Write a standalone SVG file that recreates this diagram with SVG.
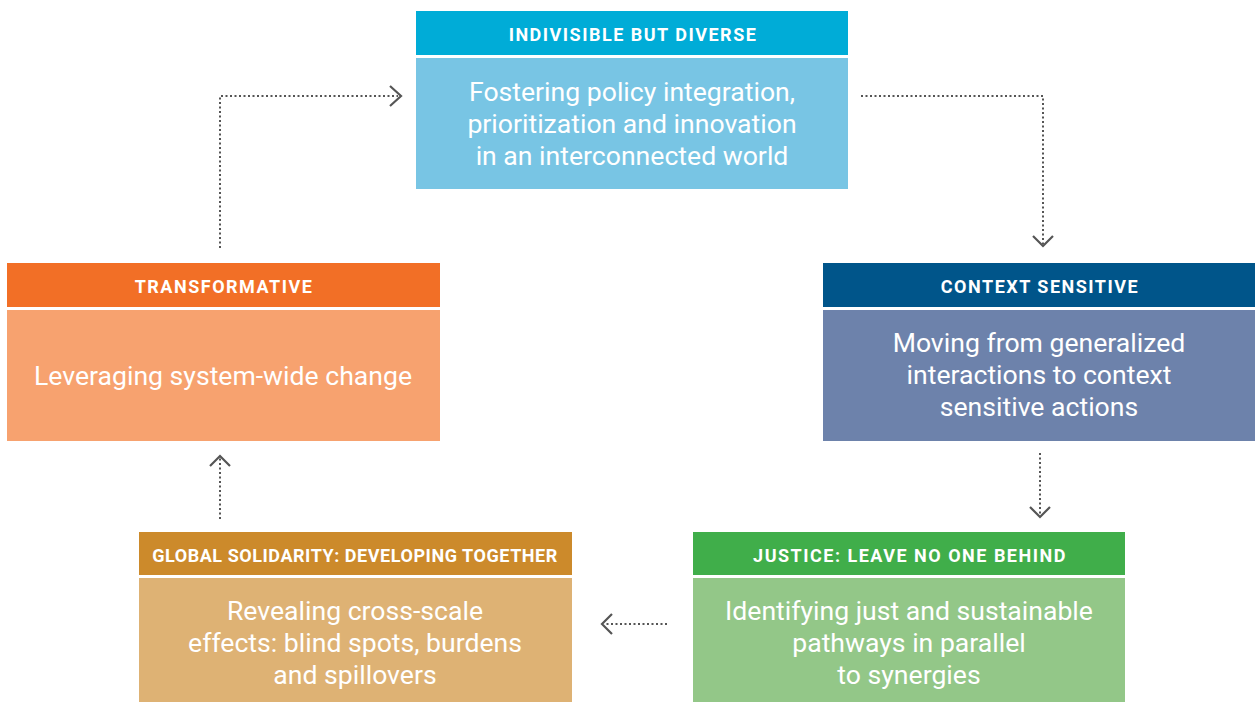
<svg xmlns="http://www.w3.org/2000/svg" width="1255" height="702" viewBox="0 0 1255 702">
<style>
.hd{font-family:Roboto,"Liberation Sans",sans-serif;font-weight:bold;font-size:18px;letter-spacing:1.5px;fill:#fff;text-anchor:middle}
.bd{font-family:Roboto,"Liberation Sans",sans-serif;font-size:26.6px;fill:#fff;text-anchor:middle}
.dot{fill:none;stroke:#555;stroke-width:2;stroke-dasharray:2 2.5}
.chev{fill:none;stroke:#555;stroke-width:2.2}
</style>
<rect width="1255" height="702" fill="#fff"/>
<g id="connectors">
  <path class="dot" d="M220,248 V96 H398"/>
  <path class="chev" d="M390,86 L401,96 L390,106"/>
  <path class="dot" d="M861,96 H1043 V244"/>
  <path class="chev" d="M1033,236 L1043,246 L1053,236"/>
  <path class="dot" d="M1040,453 V515"/>
  <path class="chev" d="M1030,507 L1040,517 L1050,507"/>
  <path class="dot" d="M667,624 H604"/>
  <path class="chev" d="M612,614 L602,624 L612,634"/>
  <path class="dot" d="M220,519 V458"/>
  <path class="chev" d="M210,466 L220,456 L230,466"/>
</g>
<g id="indivisible">
  <rect x="416" y="11" width="432" height="44" fill="#00ACD7"/>
  <rect x="416" y="58" width="432" height="131" fill="#78C5E4"/>
  <text class="hd" x="633" y="40.5">INDIVISIBLE BUT DIVERSE</text>
  <text class="bd" x="632" y="101">Fostering policy integration,</text>
  <text class="bd" x="632" y="133">prioritization and innovation</text>
  <text class="bd" x="632" y="165">in an interconnected world</text>
</g>
<g id="transformative">
  <rect x="7" y="263" width="433" height="44" fill="#F26F26"/>
  <rect x="7" y="310" width="433" height="131" fill="#F7A26F"/>
  <text class="hd" x="224" y="292.5">TRANSFORMATIVE</text>
  <text class="bd" x="223" y="385">Leveraging system-wide change</text>
</g>
<g id="context">
  <rect x="823" y="263" width="432" height="44" fill="#00558A"/>
  <rect x="823" y="310" width="432" height="131" fill="#6D82AB"/>
  <text class="hd" x="1040" y="292.5">CONTEXT SENSITIVE</text>
  <text class="bd" x="1039" y="352">Moving from generalized</text>
  <text class="bd" x="1039" y="384">interactions to context</text>
  <text class="bd" x="1039" y="416">sensitive actions</text>
</g>
<g id="global">
  <rect x="139" y="532" width="433" height="43" fill="#CC8A2B"/>
  <rect x="139" y="578" width="433" height="124" fill="#DEB274"/>
  <text class="hd" x="355" y="561.5" style="letter-spacing:0.55px">GLOBAL SOLIDARITY: DEVELOPING TOGETHER</text>
  <text class="bd" x="355" y="620">Revealing cross-scale</text>
  <text class="bd" x="355" y="652">effects: blind spots, burdens</text>
  <text class="bd" x="355" y="684">and spillovers</text>
</g>
<g id="justice">
  <rect x="693" y="532" width="432" height="43" fill="#40AE4A"/>
  <rect x="693" y="578" width="432" height="124" fill="#93C788"/>
  <text class="hd" x="910" y="561.5">JUSTICE: LEAVE NO ONE BEHIND</text>
  <text class="bd" x="909" y="620">Identifying just and sustainable</text>
  <text class="bd" x="909" y="652">pathways in parallel</text>
  <text class="bd" x="909" y="684">to synergies</text>
</g>
</svg>
